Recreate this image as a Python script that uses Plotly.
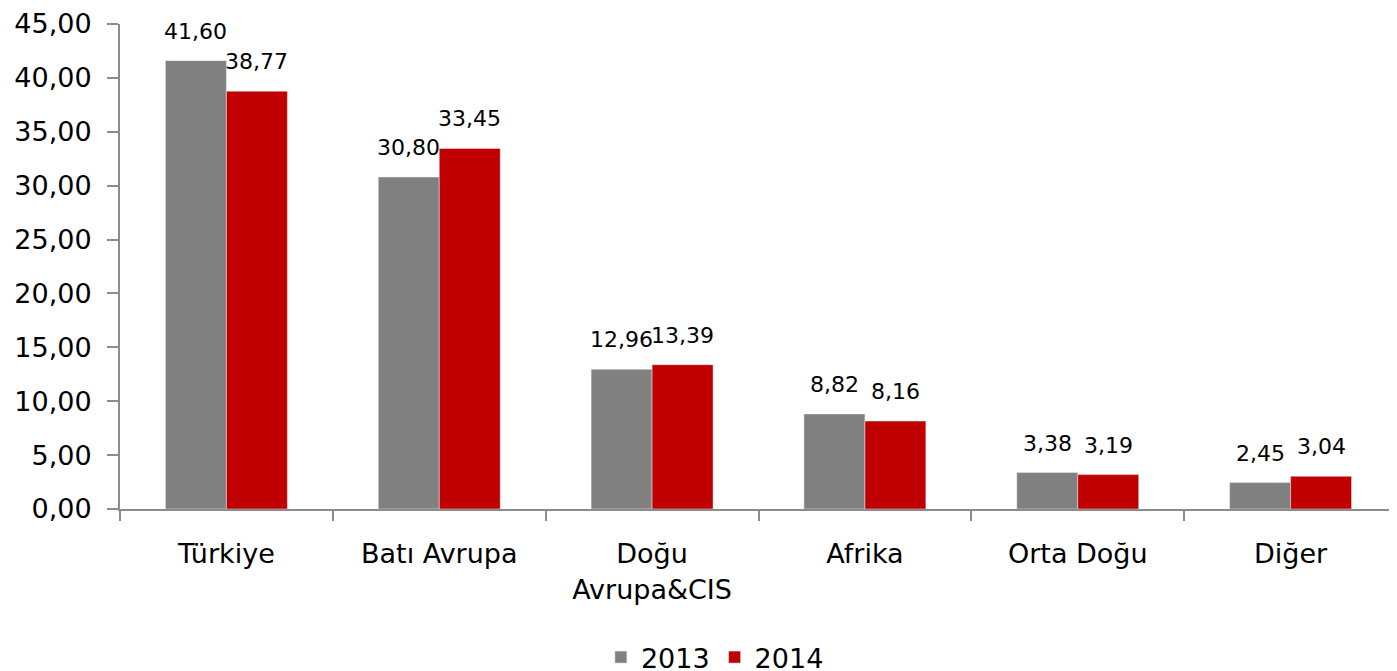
import plotly.graph_objects as go

categories = ["Türkiye", "Batı Avrupa", "Doğu<br>Avrupa&CIS", "Afrika", "Orta Doğu", "Diğer"]
values_2013 = [41.60, 30.80, 12.96, 8.82, 3.38, 2.45]
values_2014 = [38.77, 33.45, 13.39, 8.16, 3.19, 3.04]
tick_vals = [0, 5, 10, 15, 20, 25, 30, 35, 40, 45]

FONT = "DejaVu Sans"
AXIS = "#8c8c8c"
BAR_PX = 61  # bar width in px (style), used to centre labels over bars

fig = go.Figure()
fig.add_trace(go.Bar(name="2013", x=categories, y=values_2013, marker_color="#808080"))
fig.add_trace(go.Bar(name="2014", x=categories, y=values_2014, marker_color="#C00000"))

for vals, shift in ((values_2013, -BAR_PX / 2), (values_2014, BAR_PX / 2)):
    for c, v in zip(categories, vals):
        fig.add_annotation(
            x=c, y=v, xref="x", yref="y", text=f"{v:.2f}".replace(".", ","),
            showarrow=False, xshift=shift, yshift=15, yanchor="bottom",
            font=dict(size=22, family=FONT, color="#000000"),
        )

fig.update_layout(
    width=1397, height=671,
    separators=",.",
    barmode="group", bargap=0.427, bargroupgap=0,
    plot_bgcolor="white", paper_bgcolor="white",
    font=dict(family=FONT, size=27, color="#000000"),
    margin=dict(l=112, r=8, t=16, b=170, autoexpand=False),
    showlegend=True,
    legend=dict(orientation="h", xref="container", yref="container",
                x=0.506, xanchor="center", y=0.032, yanchor="middle",
                font=dict(size=27, family=FONT), itemwidth=30,
                traceorder="normal"),
    xaxis=dict(showline=True, linecolor=AXIS, linewidth=2, automargin=False,
               ticks="outside", tickson="boundaries", ticklen=10,
               tickcolor=AXIS, tickwidth=2, showgrid=False,
               ticklabeloverflow="allow",
               tickfont=dict(size=27, family=FONT), ticklabelstandoff=20),
    yaxis=dict(range=[0, 45], tickvals=tick_vals, tickformat=".2f", automargin=False,
               showline=True, linecolor=AXIS, linewidth=2,
               ticks="outside", ticklen=11, tickcolor=AXIS, tickwidth=2,
               showgrid=False, zeroline=False, ticklabeloverflow="allow",
               tickfont=dict(size=27, family=FONT), ticklabelstandoff=10),
)

fig.write_html("out.html")
